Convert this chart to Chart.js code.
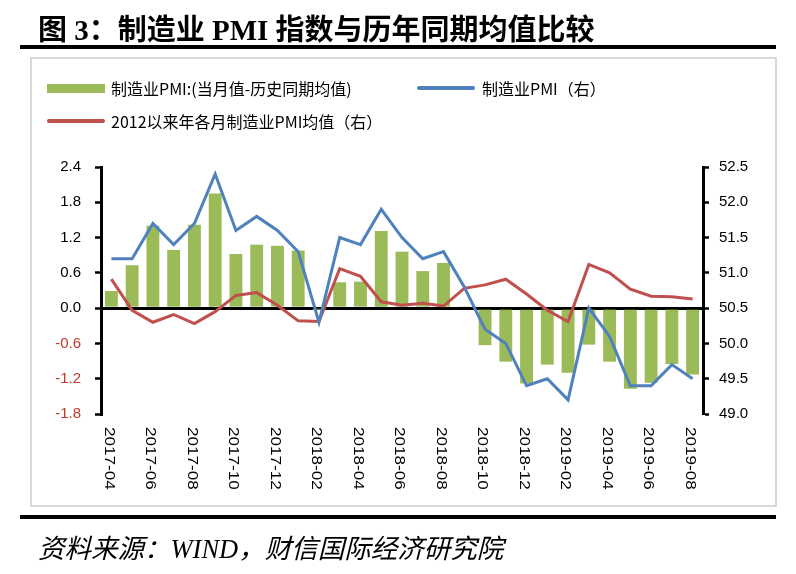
<!DOCTYPE html>
<html><head><meta charset="utf-8">
<script src="https://cdn.jsdelivr.net/npm/chart.js@4/dist/chart.umd.min.js"></script>
<style>
body{margin:0;background:#fff;width:796px;height:574px;overflow:hidden;position:relative;font-family:"Noto Sans CJK SC",sans-serif;}
#c{position:absolute;left:0;top:0;}
.t{position:absolute;white-space:nowrap;line-height:1;}
.lg{position:absolute;white-space:nowrap;font:16px "Noto Sans CJK SC",sans-serif;line-height:20px;color:#000;}
</style></head><body>
<canvas id="c" width="796" height="574"></canvas>
<div class="t" style="left:38px;top:6px;font:bold 29px 'Liberation Serif','Noto Sans CJK SC';">图 3：制造业 PMI 指数与历年同期均值比较</div>
<div style="position:absolute;left:20px;top:45px;width:756px;height:4px;background:#000"></div>
<div style="position:absolute;left:30px;top:57px;width:743px;height:446px;border:2px solid #D9D9D9"></div>
<div style="position:absolute;left:20px;top:515px;width:756px;height:4px;background:#000"></div>
<div class="t" style="left:38px;top:527px;font:italic 26.5px 'Liberation Serif','Noto Sans CJK SC';">资料来源：WIND，财信国际经济研究院</div>

<div style="position:absolute;left:47px;top:84px;width:58px;height:9px;background:#9BBB59"></div>
<div class="lg" style="left:111px;top:78px;">制造业PMI:(当月值-历史同期均值)</div>
<div style="position:absolute;left:417px;top:86px;width:58px;height:4px;background:#4F81BD;border-radius:2px"></div>
<div class="lg" style="left:482px;top:78px;">制造业PMI（右）</div>
<div style="position:absolute;left:47px;top:119px;width:58px;height:4px;background:#C0504D;border-radius:2px"></div>
<div class="lg" style="left:111px;top:111px;">2012以来年各月制造业PMI均值（右）</div>

<script>
const months = ["2017-04","2017-05","2017-06","2017-07","2017-08","2017-09","2017-10","2017-11","2017-12",
"2018-01","2018-02","2018-03","2018-04","2018-05","2018-06","2018-07","2018-08","2018-09","2018-10","2018-11","2018-12",
"2019-01","2019-02","2019-03","2019-04","2019-05","2019-06","2019-07","2019-08"];
const diffValues = [0.29,0.73,1.40,0.99,1.42,1.95,0.92,1.08,1.06,
0.98,-0.01,0.44,0.45,1.31,0.96,0.63,0.77,0.03,-0.63,-0.91,-1.28,
-0.96,-1.10,-0.62,-0.91,-1.37,-1.27,-0.95,-1.13];
const pmiValues = [51.2,51.2,51.7,51.4,51.7,52.4,51.6,51.8,51.6,
51.3,50.3,51.5,51.4,51.9,51.5,51.2,51.3,50.8,50.2,50.0,49.4,
49.5,49.2,50.5,50.1,49.4,49.4,49.7,49.5];
const avgValues = [50.91,50.47,50.30,50.41,50.28,50.45,50.68,50.72,50.54,
50.32,50.31,51.06,50.95,50.59,50.54,50.57,50.53,50.78,50.83,50.91,50.70,
50.47,50.31,51.12,51.00,50.77,50.67,50.66,50.63];
const leftTicks = [-1.8,-1.2,-0.6,0.0,0.6,1.2,1.8,2.4];
const rightTicks = [49.0,49.5,50.0,50.5,51.0,51.5,52.0,52.5];

const fmt = v => (Math.abs(v) < 1e-9 ? 0 : v).toFixed(1);

const xLabelPlugin = {
  id: 'xlabels',
  afterDraw(chart) {
    const ctx = chart.ctx, xs = chart.scales.x;
    ctx.save();
    ctx.font = '14px "Liberation Sans"';
    ctx.fillStyle = '#000';
    ctx.textBaseline = 'middle';
    ctx.textAlign = 'left';
    months.forEach((m, i) => {
      if (i % 2) return;
      const px = xs.getPixelForValue(i);
      ctx.save();
      ctx.translate(px - 3, 427);
      ctx.rotate(Math.PI / 2);
      ctx.scale(1.22, 1);
      ctx.fillText(m, 0, 0);
      ctx.restore();
    });
    ctx.restore();
  }
};

new Chart(document.getElementById('c'), {
  data: {
    labels: months,
    datasets: [
      { type: 'bar', data: diffValues, yAxisID: 'yL', backgroundColor: '#9BBB59',
        barPercentage: 0.62, categoryPercentage: 1, order: 3 },
      { type: 'line', data: avgValues, yAxisID: 'yR', borderColor: '#C0504D', borderWidth: 3,
        pointRadius: 0, tension: 0, order: 2 },
      { type: 'line', data: pmiValues, yAxisID: 'yR', borderColor: '#4F81BD', borderWidth: 3,
        pointRadius: 0, tension: 0, order: 1 }
    ]
  },
  options: {
    responsive: false,
    animation: false,
    events: [],
    layout: { padding: { top: 167, left: 0, right: 0, bottom: 0 } },
    plugins: { legend: { display: false }, tooltip: { enabled: false } },
    scales: {
      x: {
        type: 'category', offset: true,
        grid: { display: false }, border: { display: false },
        ticks: { display: false },
        afterFit: s => { s.height = 160; }
      },
      yL: {
        position: 'left', min: -1.8, max: 2.4,
        afterBuildTicks: s => { s.ticks = leftTicks.map(v => ({ value: v })); },
        afterFit: s => { s.width = 101; },
        border: { color: '#000', width: 3 },
        grid: {
          color: c => (c.tick && Math.abs(c.tick.value) < 1e-9) ? '#000' : 'rgba(0,0,0,0)',
          lineWidth: 3, tickColor: '#000', tickWidth: 2.5, tickLength: 6, drawTicks: true
        },
        ticks: {
          callback: v => fmt(v),
          color: c => (c.tick && c.tick.value < -1e-9) ? '#C0392B' : '#000',
          font: { family: 'Liberation Sans', size: 15 }, padding: 14
        }
      },
      yR: {
        position: 'right', min: 49, max: 52.5,
        afterBuildTicks: s => { s.ticks = rightTicks.map(v => ({ value: v })); },
        afterFit: s => { s.width = 93; },
        border: { color: '#000', width: 3 },
        grid: { drawOnChartArea: false, tickColor: '#000', tickWidth: 2.5, tickLength: 6 },
        ticks: {
          callback: v => fmt(v), color: '#000',
          font: { family: 'Liberation Sans', size: 15 }, padding: 10
        }
      }
    }
  },
  plugins: [xLabelPlugin]
});
</script>
</body></html>
